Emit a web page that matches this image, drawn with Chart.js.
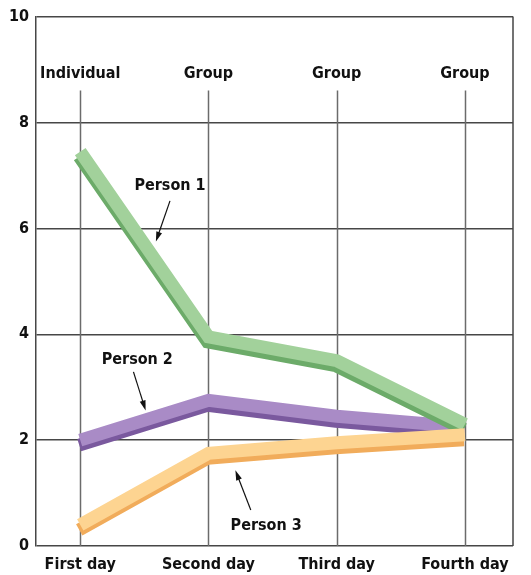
<!DOCTYPE html>
<html>
<head>
<meta charset="utf-8">
<script src="https://cdn.jsdelivr.net/npm/chart.js@4/dist/chart.umd.min.js"></script>
<style>
  html, body { margin: 0; padding: 0; background: #fff; }
  #wrap { width: 531px; height: 575px; }
</style>
</head>
<body>
<div id="wrap"><canvas id="c"></canvas></div>
<script>
// Categories along the bottom and the session type above each day
const days = ['First day', 'Second day', 'Third day', 'Fourth day'];
const sessions = ['Individual', 'Group', 'Group', 'Group'];

// Judgements of each person on each day
const person1 = [7.45, 3.95, 3.5, 2.3];
const person2 = [2.0, 2.75, 2.45, 2.25];
const person3 = [0.4, 1.75, 1.95, 2.1];

// Value axis ticks
const yTicks = [0, 2, 4, 6, 8, 10];

// Callout labels with arrows, in axis units: [day index, value]
const calloutText = ['Person 1', 'Person 2', 'Person 3'];
const calloutAt = [[0.70, 6.80], [0.445, 3.52], [1.45, 0.38]];
const arrowFrom = [[0.70, 6.52], [0.415, 3.29], [1.33, 0.68]];
const arrowTo = [[0.59, 5.75], [0.51, 2.56], [1.21, 1.43]];

const FONT = "'Liberation Sans Narrow', 'DejaVu Sans Condensed', 'Arial Narrow', sans-serif";

const toPoints = arr => arr.map((v, i) => ({ x: i, y: v }));

// Draws each ribbon with a darker edge underneath for a raised look
const ribbonShade = {
  id: 'ribbonShade',
  beforeDatasetDraw(chart, args) {
    const ds = chart.data.datasets[args.index];
    const ctx = chart.ctx;
    ctx.save();
    ctx.shadowColor = ds.shade;
    ctx.shadowOffsetX = -1;
    ctx.shadowOffsetY = 5;
    ctx.shadowBlur = 0;
  },
  afterDatasetDraw(chart) {
    chart.ctx.restore();
  }
};

// Frame, day gridlines and session headings
const frame = {
  id: 'frame',
  beforeDatasetsDraw(chart) {
    const { ctx, chartArea: a, scales: { x } } = chart;
    ctx.save();
    ctx.strokeStyle = '#6b6b6b';
    ctx.lineWidth = 1.5;
    days.forEach((_, i) => {
      const px = Math.round(x.getPixelForValue(i)) + 0.5;
      ctx.beginPath();
      ctx.moveTo(px, a.top + 74);
      ctx.lineTo(px, a.bottom);
      ctx.stroke();
    });
    ctx.strokeStyle = '#444';
    ctx.beginPath();
    ctx.moveTo(a.right, a.top);
    ctx.lineTo(a.right, a.bottom);
    ctx.stroke();
    ctx.fillStyle = '#111';
    ctx.font = 'bold 16px ' + FONT;
    ctx.textAlign = 'center';
    ctx.textBaseline = 'middle';
    sessions.forEach((s, i) => {
      ctx.fillText(s, x.getPixelForValue(i), a.top + 57);
    });
    ctx.restore();
  },
  afterDatasetsDraw(chart) {
    const { ctx, scales: { x, y } } = chart;
    ctx.save();
    ctx.fillStyle = '#111';
    ctx.strokeStyle = '#111';
    ctx.font = 'bold 16px ' + FONT;
    ctx.textAlign = 'center';
    ctx.textBaseline = 'middle';
    calloutText.forEach((t, i) => {
      ctx.fillText(t, x.getPixelForValue(calloutAt[i][0]), y.getPixelForValue(calloutAt[i][1]));
      const x0 = x.getPixelForValue(arrowFrom[i][0]), y0 = y.getPixelForValue(arrowFrom[i][1]);
      const x1 = x.getPixelForValue(arrowTo[i][0]), y1 = y.getPixelForValue(arrowTo[i][1]);
      const ang = Math.atan2(y1 - y0, x1 - x0);
      const len = 10, half = 3;
      ctx.lineWidth = 1.2;
      ctx.beginPath();
      ctx.moveTo(x0, y0);
      ctx.lineTo(x1 - Math.cos(ang) * len * 0.8, y1 - Math.sin(ang) * len * 0.8);
      ctx.stroke();
      const bx = x1 - Math.cos(ang) * len, by = y1 - Math.sin(ang) * len;
      ctx.beginPath();
      ctx.moveTo(x1, y1);
      ctx.lineTo(bx + Math.sin(ang) * half, by - Math.cos(ang) * half);
      ctx.lineTo(bx - Math.sin(ang) * half, by + Math.cos(ang) * half);
      ctx.closePath();
      ctx.fill();
    });
    ctx.restore();
  }
};

const ribbon = (label, values, color, shade, order) => ({
  label,
  data: toPoints(values),
  borderColor: color,
  shade,
  borderWidth: 13,
  borderCapStyle: 'butt',
  borderJoinStyle: 'miter',
  pointRadius: 0,
  pointHoverRadius: 0,
  tension: 0,
  fill: false,
  order
});

new Chart(document.getElementById('c'), {
  type: 'line',
  data: {
    datasets: [
      ribbon('Person 1', person1, '#a2d19b', '#6cab69', 1),
      ribbon('Person 2', person2, '#a98bc6', '#7a599e', 2),
      ribbon('Person 3', person3, '#fdd491', '#f1ac5b', 0)
    ]
  },
  options: {
    responsive: true,
    maintainAspectRatio: false,
    animation: false,
    layout: { padding: { top: 14, right: 18, left: 0, bottom: 0 } },
    plugins: { legend: { display: false }, tooltip: { enabled: false } },
    scales: {
      x: {
        type: 'linear',
        min: -0.345,
        max: 3.375,
        afterBuildTicks: s => { s.ticks = days.map((_, i) => ({ value: i })); },
        afterFit: s => { s.height = 29; },
        grid: { display: false },
        border: { display: false },
        ticks: {
          callback: v => days[Math.round(v)],
          color: '#111',
          font: { family: FONT, size: 16, weight: 'bold' },
          padding: 1,
          maxRotation: 0,
          autoSkip: false
        }
      },
      y: {
        min: 0,
        max: 10,
        afterBuildTicks: s => { s.ticks = yTicks.map(v => ({ value: v })); },
        afterFit: s => { s.width = 36; },
        grid: { color: '#474747', lineWidth: 1.4, drawTicks: false },
        border: { display: true, color: '#474747', width: 1.5 },
        ticks: {
          color: '#111',
          font: { family: FONT, size: 16, weight: 'bold' },
          padding: 7
        }
      }
    }
  },
  plugins: [ribbonShade, frame]
});
</script>
</body>
</html>
